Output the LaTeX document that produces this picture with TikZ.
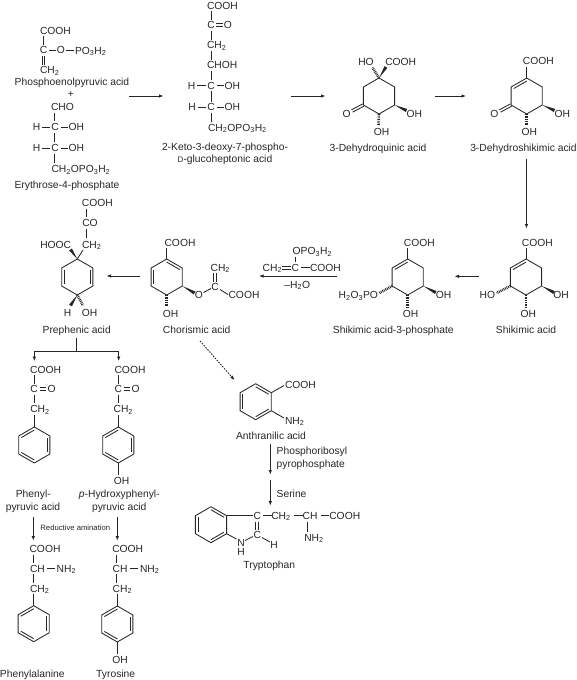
\documentclass[tikz,border=0pt]{standalone}
\usepackage{fontspec}
\setmainfont{Liberation Sans}
\usetikzlibrary{calc,arrows.meta}
\definecolor{ink}{HTML}{262626}
\tikzset{
  tx/.style={inner sep=0pt,outer sep=0pt,text=ink,text height=7.4pt,text depth=0pt,font=\fontsize{10.3}{12}\selectfont},
  bond/.style={draw=ink,line width=0.85pt,line join=round},
  inner/.style={draw=ink,line width=0.85pt},
  hashbond/.style={draw=ink,line width=2.6pt,dash pattern=on 0.8pt off 0.9pt},
  rxn/.style={draw=ink,line width=0.85pt,-{Latex[length=4.5pt,width=3.6pt]}},
  dotrxn/.style={rxn,dash pattern=on 1.6pt off 1.2pt},
}
\newcommand{\hexring}[3]{%
  \coordinate (#1-c) at (#2,#3);
  \coordinate (#1-t) at (#2,#3-18);
  \coordinate (#1-ur) at (#2+15.6,#3-9);
  \coordinate (#1-lr) at (#2+15.6,#3+9);
  \coordinate (#1-b) at (#2,#3+18);
  \coordinate (#1-ll) at (#2-15.6,#3+9);
  \coordinate (#1-ul) at (#2-15.6,#3-9);
  \draw[bond] (#1-t)--(#1-ur)--(#1-lr)--(#1-b)--(#1-ll)--(#1-ul)--cycle;
}
\newcommand{\dblin}[3]{\draw[inner] ($(#1-#2)!.17!(#1-c)$) -- ($(#1-#3)!.17!(#1-c)$);}
\newcommand{\wedgeb}[2]{\fill[ink] #1 -- ($#2!1.7pt!90:#1$) -- ($#2!1.7pt!-90:#1$) -- cycle;}
\newcommand{\dblb}[2]{%
  \draw[bond] ($#1!1.3pt!90:#2$) -- ($#2!1.3pt!-90:#1$);
  \draw[bond] ($#1!1.3pt!-90:#2$) -- ($#2!1.3pt!90:#1$);}
\newcommand{\tsb}[1]{\textsubscript{#1}}
\begin{document}
\begin{tikzpicture}[x=1pt,y=-1pt]
\useasboundingbox (0,0) rectangle (577,680);
% ---------- Phosphoenolpyruvic acid
\node[tx,anchor=west] (pepA) at (40,31) {COOH};
\node[tx] (pepC) at (43.5,50) {C};
\node[tx] (pepO) at (61,50) {O};
\node[tx,anchor=west] (pepP) at (75,50.5) {PO\tsb{3}H\tsb{2}};
\node[tx,anchor=west] (pepM) at (40,70) {CH\tsb{2}};
\node[tx] (pepL) at (72,82) {Phosphoenolpyruvic acid};
\node[tx] (plus) at (71,94) {+};
\draw[bond] (43.5,36)--(43.5,44.5);
\draw[bond] (49,50)--(56,50);
\draw[bond] (66,50)--(74,50);
\dblb{(43.5,55.5)}{(43.5,64.5)}
% ---------- Erythrose-4-phosphate
\node[tx,anchor=west] (eryA) at (51,107) {CHO};
\node[tx] (eryH1) at (36.7,127) {H};
\node[tx] (eryC1) at (55,127) {C};
\node[tx,anchor=west] (eryO1) at (68.5,127) {OH};
\node[tx] (eryH2) at (36.7,148) {H};
\node[tx] (eryC2) at (55,148) {C};
\node[tx,anchor=west] (eryO2) at (68.5,148) {OH};
\node[tx,anchor=west] (eryP) at (51.5,169) {CH\tsb{2}OPO\tsb{3}H\tsb{2}};
\node[tx] (eryL) at (67,184.5) {Erythrose-4-phosphate};
\draw[bond] (54.5,112.5)--(54.5,121);
\draw[bond] (54.5,133)--(54.5,142);
\draw[bond] (54.5,154)--(54.5,163);
\draw[bond] (41.5,127)--(50,127) (60.5,127)--(68,127);
\draw[bond] (41.5,148)--(50,148) (60.5,148)--(68,148);
% ---------- arrow 1
\coordinate (a1s) at (129,96); \coordinate (a1e) at (163.5,96);
\draw[rxn] (a1s)--(a1e);
% ---------- KDPG
\node[tx,anchor=west] (kA) at (207,5.5) {COOH};
\node[tx] (kC) at (211,25) {C};
\node[tx] (kO) at (228,25) {O};
\node[tx,anchor=west] (kM) at (207,45) {CH\tsb{2}};
\node[tx,anchor=west] (kH) at (207,65) {CHOH};
\node[tx] (kH1) at (191.5,85.5) {H};
\node[tx] (kC1) at (211,85.5) {C};
\node[tx,anchor=west] (kO1) at (224.5,85.5) {OH};
\node[tx] (kH2) at (192,107) {H};
\node[tx] (kC2) at (211,107) {C};
\node[tx,anchor=west] (kO2) at (224.5,107) {OH};
\node[tx,anchor=west] (kP) at (208,127.5) {CH\tsb{2}OPO\tsb{3}H\tsb{2}};
\node[tx] (kL1) at (225,147) {2-Keto-3-deoxy-7-phospho-};
\node[tx] (kL2) at (225,159) {{\fontsize{8}{9}\selectfont D}-glucoheptonic acid};
\draw[bond] (211,11)--(211,19.5) (211,30.5)--(211,39.5) (211,50.5)--(211,59.5) (211,70.5)--(211,80) (211,91)--(211,101.5) (211,112.5)--(211,122);
\dblb{(216,25)}{(222.5,25)}
\draw[bond] (197,85.5)--(206,85.5) (216.5,85.5)--(224,85.5);
\draw[bond] (197.5,107)--(206,107) (216.5,107)--(224,107);
% ---------- arrows 2, 3
\coordinate (a2s) at (291,96); \coordinate (a2e) at (325.5,96);
\draw[rxn] (a2s)--(a2e);
\coordinate (a3s) at (435,96); \coordinate (a3e) at (466,96);
\draw[rxn] (a3s)--(a3e);
% ---------- 3-Dehydroquinic acid
\hexring{q}{379}{96}
\node[tx] (qHO) at (366,61.7) {HO};
\node[tx] (qA) at (400.7,61.7) {COOH};
\node[tx] (qO) at (346.7,114) {O};
\node[tx] (qOH1) at (414.3,114) {OH};
\node[tx] (qOH2) at (381.7,131.7) {OH};
\node[tx] (qL) at (378,147.7) {3-Dehydroquinic acid};
\draw[hashbond] (q-t)--(372.5,67.5);
\wedgeb{(q-t)}{(386,67)}
\dblb{(q-ll)}{(352,111)}
\wedgeb{(q-lr)}{(406.5,110.5)}
\draw[hashbond] (q-b)--(378.5,125.5);
% ---------- 3-Dehydroshikimic acid
\hexring{d}{526.7}{96}
\dblin{d}{t}{ul}
\node[tx] (dA) at (538.3,60.7) {COOH};
\node[tx] (dO) at (494.3,114) {O};
\node[tx] (dOH1) at (562.3,114) {OH};
\node[tx] (dOH2) at (529.3,131.7) {OH};
\node[tx] (dL) at (523.5,147.7) {3-Dehydroshikimic acid};
\draw[bond] (d-t)--(526.7,67);
\dblb{(d-ll)}{(500,111)}
\wedgeb{(d-lr)}{(554.5,110.5)}
\draw[hashbond] (d-b)--(526.7,125.5);
% ---------- arrow down
\coordinate (a4s) at (526.5,159); \coordinate (a4e) at (526.5,228.5);
\draw[rxn] (a4s)--(a4e);
% ---------- Shikimic acid
\hexring{s}{526}{277}
\dblin{s}{t}{ul}
\node[tx] (sA) at (537.3,242.3) {COOH};
\node[tx] (sHO) at (487.3,295) {HO};
\node[tx] (sOH1) at (561,295) {OH};
\node[tx] (sOH2) at (528.3,313.3) {OH};
\node[tx] (sL) at (526,329.3) {Shikimic acid};
\draw[bond] (s-t)--(526,248);
\draw[hashbond] (s-ll)--(496.5,293);
\wedgeb{(s-lr)}{(554,292.5)}
\draw[hashbond] (s-b)--(526,307);
% ---------- arrow
\coordinate (a5s) at (478.5,276.3); \coordinate (a5e) at (454.5,276.3);
\draw[rxn] (a5s)--(a5e);
% ---------- Shikimic acid-3-phosphate
\hexring{p}{407.7}{277}
\dblin{p}{t}{ul}
\node[tx] (pA) at (419.3,242.3) {COOH};
\node[tx] (pP) at (358.3,295) {H\tsb{2}O\tsb{3}PO};
\node[tx] (pOH1) at (443.7,295) {OH};
\node[tx] (pOH2) at (410.7,313.3) {OH};
\node[tx] (pL) at (393.3,329.3) {Shikimic acid-3-phosphate};
\draw[bond] (p-t)--(407.7,248);
\draw[hashbond] (p-ll)--(379.5,293);
\wedgeb{(p-lr)}{(435.7,292.5)}
\draw[hashbond] (p-b)--(407.7,307);
% ---------- PEP reagent arrow
\coordinate (a6s) at (336.7,276); \coordinate (a6e) at (259,276);
\draw[rxn] (a6s)--(a6e);
\node[tx,anchor=west] (rP) at (292.7,251) {OPO\tsb{3}H\tsb{2}};
\node[tx,anchor=west] (rM) at (262.7,267.7) {CH\tsb{2}};
\node[tx] (rC) at (295.3,267.7) {C};
\node[tx,anchor=west] (rA) at (310,267.7) {COOH};
\node[tx] (rW) at (297.3,284.3) {–H\tsb{2}O};
\draw[bond] (295,256.5)--(295,262);
\dblb{(282,267.7)}{(290.5,267.7)}
\draw[bond] (301,267.7)--(309.5,267.7);
% ---------- Chorismic acid
\hexring{c}{166.7}{277}
\dblin{c}{t}{ur}
\dblin{c}{ul}{ll}
\node[tx] (cA) at (180,242.7) {COOH};
\node[tx] (cO) at (199,295) {O};
\node[tx] (cC) at (215,286.7) {C};
\node[tx] (cM) at (220.3,267.3) {CH\tsb{2}};
\node[tx] (cA2) at (244,294.3) {COOH};
\node[tx] (cOH) at (170.7,313.3) {OH};
\node[tx] (cL) at (196.7,329.3) {Chorismic acid};
\draw[bond] (c-t)--(166.7,248);
\wedgeb{(c-lr)}{(194.5,293)}
\draw[bond] (203.5,292.5)--(211,288.5);
\dblb{(215,272.5)}{(215,281.5)}
\draw[bond] (220,289.5)--(228,294.5);
\draw[hashbond] (c-b)--(166.7,306.5);
% ---------- arrow
\coordinate (a7s) at (139.5,276); \coordinate (a7e) at (106.5,276);
\draw[rxn] (a7s)--(a7e);
% ---------- Prephenic acid
\hexring{h}{77.3}{277}
\dblin{h}{ul}{ll}
\dblin{h}{ur}{lr}
\node[tx] (hA) at (97.3,202.7) {COOH};
\node[tx] (hK) at (90,222.7) {CO};
\node[tx] (hHA) at (55.7,244.3) {HOOC};
\node[tx,anchor=west] (hM) at (82,244.3) {CH\tsb{2}};
\node[tx] (hH) at (67.7,312.3) {H};
\node[tx] (hOH) at (89.7,312.3) {OH};
\node[tx] (hL) at (76.7,329.3) {Prephenic acid};
\draw[bond] (86,208.5)--(86,217) (86,228.5)--(86,238);
\wedgeb{(h-t)}{(70.5,249.5)}
\draw[bond] (h-t)--(83,250);
\wedgeb{(h-b)}{(70.5,305.5)}
\draw[hashbond] (h-b)--(83,305.5);
% ---------- branch
\coordinate (brT) at (76.7,337.5); \coordinate (brM) at (76.7,351);
\coordinate (brL) at (34.3,351); \coordinate (brR) at (118.7,351);
\coordinate (brLe) at (34.3,361); \coordinate (brRe) at (118.7,361);
\draw[bond] (brT)--(brM);
\draw[rxn,line join=miter] (brM)--(brL)--(brLe);
\draw[rxn,line join=miter] (brM)--(brR)--(brRe);
% ---------- Phenylpyruvic acid
\node[tx] (fA) at (45.7,369.3) {COOH};
\node[tx] (fC) at (34,389) {C};
\node[tx] (fO) at (51.7,389) {O};
\node[tx] (fM) at (40,409) {CH\tsb{2}};
\hexring{f}{34.3}{445}
\dblin{f}{t}{ul}
\dblin{f}{ur}{lr}
\dblin{f}{b}{ll}
\node[tx] (fL1) at (33.3,494) {Phenyl-};
\node[tx] (fL2) at (33,506.7) {pyruvic acid};
\draw[bond] (34.3,375)--(34.3,383.5) (34.3,394.5)--(34.3,403) (f-t)--(34.3,414.5);
\dblb{(39.5,389)}{(46,389)}
% ---------- p-Hydroxyphenylpyruvic acid
\node[tx] (yA) at (130,369.3) {COOH};
\node[tx] (yC) at (118.3,389) {C};
\node[tx] (yO) at (135.7,389) {O};
\node[tx] (yM) at (123.3,409) {CH\tsb{2}};
\hexring{y}{118.3}{445}
\dblin{y}{t}{ul}
\dblin{y}{ur}{lr}
\dblin{y}{b}{ll}
\node[tx] (yOH) at (121.7,481) {OH};
\node[tx] (yL1) at (119.3,494) {\textit{p}-Hydroxyphenyl-};
\node[tx] (yL2) at (119.3,507) {pyruvic acid};
\draw[bond] (118.3,375)--(118.3,383.5) (118.3,394.5)--(118.3,403) (y-t)--(118.3,414.5) (y-b)--(118.3,475);
\dblb{(123.5,389)}{(130,389)}
% ---------- reductive amination arrows
\coordinate (a8s) at (33.3,516.7); \coordinate (a8e) at (33.3,540.5);
\draw[rxn] (a8s)--(a8e);
\coordinate (a9s) at (117.3,516.7); \coordinate (a9e) at (117.3,540.5);
\draw[rxn] (a9s)--(a9e);
\node[tx,text height=5.6pt,font=\fontsize{7.7}{9}\selectfont] (rA2) at (75.3,527.7) {Reductive amination};
% ---------- Phenylalanine
\node[tx] (aA) at (45,549) {COOH};
\node[tx,anchor=west] (aC) at (30,568.3) {CH};
\node[tx,anchor=west] (aN) at (56.7,568.3) {NH\tsb{2}};
\node[tx,anchor=west] (aM) at (30,588.3) {CH\tsb{2}};
\hexring{a}{33.7}{623.7}
\dblin{a}{t}{ul}
\dblin{a}{ur}{lr}
\dblin{a}{b}{ll}
\node[tx] (aL) at (32.3,674) {Phenylalanine};
\draw[bond] (33.5,554.5)--(33.5,563) (33.5,574)--(33.5,583) (a-t)--(33.7,594);
\draw[bond] (47,568.3)--(55,568.3);
% ---------- Tyrosine
\node[tx] (tA) at (127.7,549) {COOH};
\node[tx,anchor=west] (tC) at (112.7,568.3) {CH};
\node[tx,anchor=west] (tN) at (140,568.3) {NH\tsb{2}};
\node[tx,anchor=west] (tM) at (112.7,588.3) {CH\tsb{2}};
\hexring{ty}{117.3}{624}
\dblin{ty}{t}{ul}
\dblin{ty}{ur}{lr}
\dblin{ty}{b}{ll}
\node[tx] (tOH) at (120,660) {OH};
\node[tx] (tL) at (115.7,674) {Tyrosine};
\draw[bond] (116.5,554.5)--(116.5,563) (116.5,574)--(116.5,583) (ty-t)--(117.3,594) (ty-b)--(117.3,654);
\draw[bond] (130,568.3)--(138,568.3);
% ---------- dotted arrow
\coordinate (a10s) at (200,341); \coordinate (a10e) at (234.5,380);
\draw[dotrxn] (a10s)--(a10e);
% ---------- Anthranilic acid
\hexring{n}{255.7}{401.7}
\dblin{n}{t}{ur}
\dblin{n}{lr}{b}
\dblin{n}{ll}{ul}
\node[tx,anchor=west] (nA) at (285,385) {COOH};
\node[tx,anchor=west] (nN) at (285,420.7) {NH\tsb{2}};
\node[tx] (nL) at (271,436) {Anthranilic acid};
\draw[bond] (n-ur)--(284,385.5);
\draw[bond] (n-lr)--(284,418);
% ---------- arrows to tryptophan
\coordinate (a11s) at (270.3,444.3); \coordinate (a11e) at (270.3,474.5);
\draw[rxn] (a11s)--(a11e);
\node[tx,anchor=west] (ppA) at (276.7,450.7) {Phosphoribosyl};
\node[tx,anchor=west] (ppB) at (276.7,463.3) {pyrophosphate};
\coordinate (a12s) at (270.3,480); \coordinate (a12e) at (270.3,505.5);
\draw[rxn] (a12s)--(a12e);
\node[tx,anchor=west] (ser) at (276.7,493.3) {Serine};
% ---------- Tryptophan
\hexring{w}{211}{524.7}
\dblin{w}{t}{ur}
\dblin{w}{lr}{b}
\dblin{w}{ll}{ul}
\node[tx] (wC1) at (257.3,515.7) {C};
\node[tx] (wC2) at (257.3,535) {C};
\node[tx] (wN) at (241,542.3) {N};
\node[tx] (wHN) at (241,551.7) {H};
\node[tx] (wH) at (274,544.3) {H};
\node[tx] (wM) at (281,515.7) {CH\tsb{2}};
\node[tx] (wCH) at (310,515.7) {CH};
\node[tx,anchor=west] (wA) at (329.3,515.7) {COOH};
\node[tx,anchor=west] (wNH) at (304.3,537.7) {NH\tsb{2}};
\node[tx] (wL) at (269.3,565) {Tryptophan};
\draw[bond] (w-ur)--(252.5,515.7);
\draw[bond] (w-lr)--(236.5,539);
\draw[bond] (245,540.5)--(253,536.5);
\dblb{(257,521.5)}{(257,529.5)}
\draw[bond] (262,537.5)--(270,542);
\draw[bond] (263,515.7)--(272,515.7) (294.3,515.7)--(302.7,515.7) (320.7,515.7)--(328.7,515.7);
\draw[bond] (307.3,521.5)--(307.3,531.5);
\end{tikzpicture}
\end{document}
